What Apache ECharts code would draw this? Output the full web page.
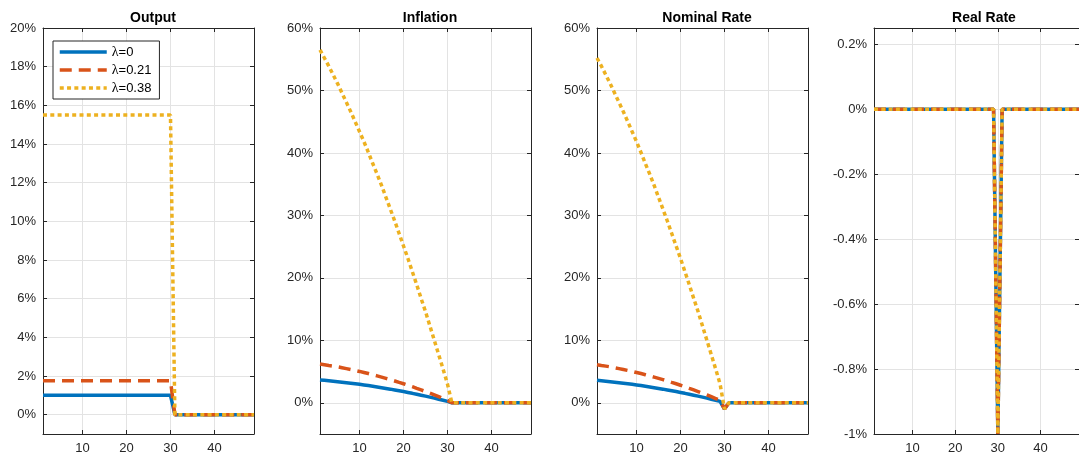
<!DOCTYPE html>
<html>
<head>
<meta charset="utf-8">
<script src="https://cdn.jsdelivr.net/npm/echarts@6/dist/echarts.min.js"></script>
<style>
  html, body { margin: 0; padding: 0; background: #fff; }
  #main { width: 1079px; height: 455px; }
</style>
</head>
<body>
<div id="main"></div>
<script>
// periods 1..49
var t = [];
for (var i = 1; i <= 49; i++) t.push(i);

var seriesNames = ['λ=0', 'λ=0.21', 'λ=0.38'];
var panelTitles = ['Output', 'Inflation', 'Nominal Rate', 'Real Rate'];

// t = 31..49
var zerosAfter = [0, 0, 0, 0, 0, 0, 0, 0, 0, 0, 0, 0, 0, 0, 0, 0, 0, 0, 0];

// Output (%), t = 1..30
var outBlue = [1, 1, 1, 1, 1, 1, 1, 1, 1, 1, 1, 1, 1, 1, 1, 1, 1, 1, 1, 1, 1, 1, 1, 1, 1, 1, 1, 1, 1, 1];
var outRed = [1.75, 1.75, 1.75, 1.75, 1.75, 1.75, 1.75, 1.75, 1.75, 1.75, 1.75, 1.75, 1.75, 1.75, 1.75,
  1.75, 1.75, 1.75, 1.75, 1.75, 1.75, 1.75, 1.75, 1.75, 1.75, 1.75, 1.75, 1.75, 1.75, 1.75];
var outYellow = [15.5, 15.5, 15.5, 15.5, 15.5, 15.5, 15.5, 15.5, 15.5, 15.5, 15.5, 15.5, 15.5, 15.5, 15.5,
  15.5, 15.5, 15.5, 15.5, 15.5, 15.5, 15.5, 15.5, 15.5, 15.5, 15.5, 15.5, 15.5, 15.5, 15.5];

// Inflation (%), t = 1..30
var infBlue = [3.65, 3.59, 3.52, 3.45, 3.38, 3.30, 3.22, 3.13, 3.04, 2.95, 2.85, 2.75, 2.64, 2.53, 2.42,
  2.30, 2.18, 2.05, 1.92, 1.79, 1.65, 1.51, 1.36, 1.21, 1.06, 0.90, 0.74, 0.57, 0.40, 0.23];
var infRed = [6.20, 6.10, 5.98, 5.87, 5.75, 5.61, 5.47, 5.32, 5.17, 5.02, 4.85, 4.68, 4.49, 4.30, 4.11,
  3.91, 3.71, 3.49, 3.26, 3.04, 2.81, 2.57, 2.31, 2.06, 1.80, 1.53, 1.26, 0.97, 0.68, 0.39];
var infYellow = [56.5, 55.2, 53.9, 52.5, 51.1, 49.6, 48.1, 46.6, 45.0, 43.4, 41.8, 40.1, 38.3, 36.6, 34.8,
  32.9, 31.0, 29.1, 27.1, 25.1, 23.1, 21.0, 18.9, 16.7, 14.6, 12.3, 10.0, 7.7, 5.4, 3.0];

// Nominal rate (%), t = 1..30
var nomBlue = [3.59, 3.52, 3.45, 3.38, 3.30, 3.22, 3.13, 3.04, 2.95, 2.85, 2.75, 2.64, 2.53, 2.42, 2.30,
  2.18, 2.05, 1.92, 1.79, 1.65, 1.51, 1.36, 1.21, 1.06, 0.90, 0.74, 0.57, 0.40, 0.23, -1];
var nomRed = [6.10, 5.98, 5.87, 5.75, 5.61, 5.47, 5.32, 5.17, 5.02, 4.85, 4.68, 4.49, 4.30, 4.11, 3.91,
  3.71, 3.49, 3.26, 3.04, 2.81, 2.57, 2.31, 2.06, 1.80, 1.53, 1.26, 0.97, 0.68, 0.39, -1];
var nomYellow = [55.2, 53.9, 52.5, 51.1, 49.6, 48.1, 46.6, 45.0, 43.4, 41.8, 40.1, 38.3, 36.6, 34.8, 32.9,
  31.0, 29.1, 27.1, 25.1, 23.1, 21.0, 18.9, 16.7, 14.6, 12.3, 10.0, 7.7, 5.4, 3.0, -1];

// Real rate (%), t = 1..30
var realAll = [0, 0, 0, 0, 0, 0, 0, 0, 0, 0, 0, 0, 0, 0, 0, 0, 0, 0, 0, 0, 0, 0, 0, 0, 0, 0, 0, 0, 0, -1];

var panelData = [
  [outBlue, outRed, outYellow],
  [infBlue, infRed, infYellow],
  [nomBlue, nomRed, nomYellow],
  [realAll, realAll, realAll]
];

// axis ranges and tick labels
var xTicks = [10, 20, 30, 40];
var yRanges = [[-1, 20], [-5, 60], [-5, 60], [-1, 0.25]];
var yTicks = [
  [0, 2, 4, 6, 8, 10, 12, 14, 16, 18, 20],
  [0, 10, 20, 30, 40, 50, 60],
  [0, 10, 20, 30, 40, 50, 60],
  [-1, -0.8, -0.6, -0.4, -0.2, 0, 0.2]
];

var colors = ['#0072BD', '#D95319', '#EDB120'];
var dashes = ['solid', [12, 7], [4, 3.3]];
var font = 'Liberation Sans, Arial, Helvetica, sans-serif';
var ink = '#262626';

var lefts = [43, 320, 597, 874];
var grids = [], xAxes = [], yAxes = [], titles = [], series = [];

lefts.forEach(function (left, p) {
  grids.push({ left: left, top: 28, width: 211, height: 406 });
  titles.push({
    text: panelTitles[p], left: left + 105, top: 6, textAlign: 'center',
    textStyle: { fontFamily: font, fontSize: 14, fontWeight: 'bold', color: '#000' }
  });

  var axLine = { show: true, onZero: false, lineStyle: { color: ink, width: 1 } };
  var tick = { show: true, inside: true, length: 4, lineStyle: { color: ink }, customValues: xTicks };

  xAxes.push({
    type: 'value', gridIndex: p, min: 1, max: 49, position: 'bottom',
    axisLine: axLine, axisTick: tick,
    axisLabel: { customValues: xTicks, margin: 8, fontFamily: font, fontSize: 13, color: ink },
    splitLine: { show: true, lineStyle: { color: '#e3e3e3' } }
  });
  xAxes.push({
    type: 'value', gridIndex: p, min: 1, max: 49, position: 'top',
    axisLine: axLine, axisTick: tick, axisLabel: { show: false }, splitLine: { show: false }
  });

  var yt = { show: true, inside: true, length: 4, lineStyle: { color: ink }, customValues: yTicks[p] };
  yAxes.push({
    type: 'value', gridIndex: p, min: yRanges[p][0], max: yRanges[p][1], position: 'left',
    axisLine: axLine, axisTick: yt,
    axisLabel: {
      customValues: yTicks[p], margin: 7, fontFamily: font, fontSize: 13, color: ink,
      formatter: function (v) { return (+v.toFixed(1)) + '%'; }
    },
    splitLine: { show: true, lineStyle: { color: '#e3e3e3' } }
  });
  yAxes.push({
    type: 'value', gridIndex: p, min: yRanges[p][0], max: yRanges[p][1], position: 'right',
    axisLine: axLine, axisTick: yt, axisLabel: { show: false }, splitLine: { show: false }
  });

  panelData[p].forEach(function (vals, s) {
    var full = vals.concat(zerosAfter);
    series.push({
      name: seriesNames[s], type: 'line', xAxisIndex: p * 2, yAxisIndex: p * 2,
      data: t.map(function (x, k) { return [x, full[k]]; }),
      symbol: 'none', animation: false, z: 2 + s,
      lineStyle: { color: colors[s], width: 3.5, type: dashes[s], cap: 'butt' },
      itemStyle: { color: colors[s] }
    });
  });
});

var chart = echarts.init(document.getElementById('main'));
chart.setOption({
  backgroundColor: '#fff',
  animation: false,
  title: titles,
  grid: grids,
  xAxis: xAxes,
  yAxis: yAxes,
  legend: {
    data: seriesNames, orient: 'vertical', left: 53, top: 41,
    padding: [4, 8, 4, 5], itemGap: 4, itemWidth: 47, itemHeight: 14,
    backgroundColor: '#fff', borderColor: ink, borderWidth: 1,
    itemStyle: { opacity: 0 },
    lineStyle: { width: 3.5 },
    textStyle: {
      fontFamily: font, fontSize: 13, color: '#000',
      rich: { g: { fontFamily: 'Liberation Serif, serif', fontSize: 14, color: '#000' } }
    },
    formatter: function (name) { return '{g|λ}' + name.slice(1); }
  },
  series: series
});
</script>
</body>
</html>
